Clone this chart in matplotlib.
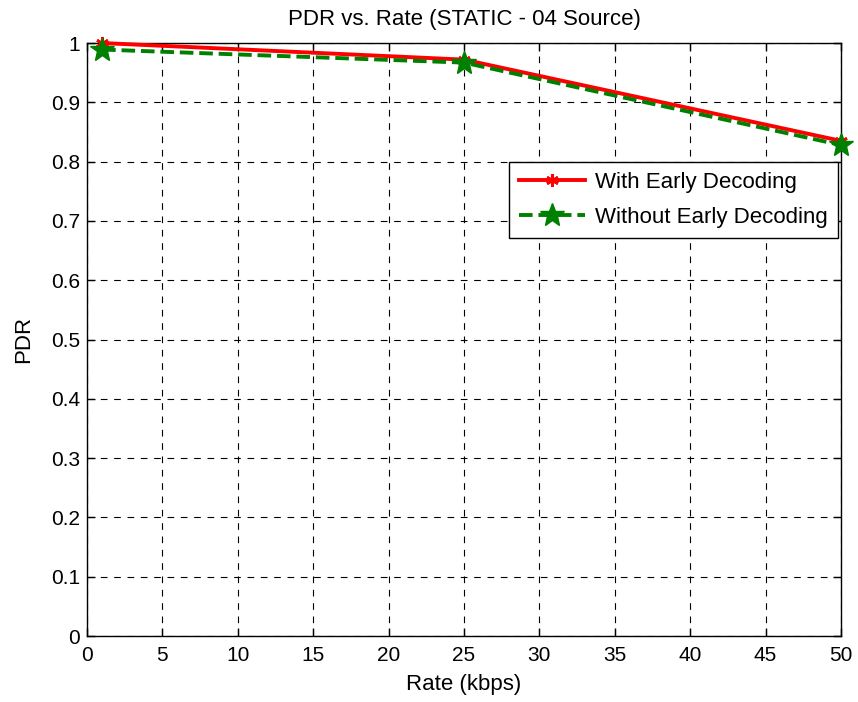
import matplotlib
matplotlib.use('Agg')
import matplotlib.pyplot as plt
import numpy as np

# PDR measured at each source rate
rates = [1, 25, 50]
pdr_early = [1.0, 0.972, 0.835]
pdr_no_early = [0.989, 0.967, 0.828]
labels = ['With Early Decoding', 'Without Early Decoding']

x_ticks = np.arange(0, 51, 5)
y_ticks = np.round(np.arange(0, 1.01, 0.1), 1)
y_ticklabels = ['0' if v == 0 else ('1' if v == 1 else '{:g}'.format(v)) for v in y_ticks]

plt.rcParams['font.family'] = ['Liberation Sans', 'DejaVu Sans']
plt.rcParams['font.size'] = 15

fig = plt.figure(figsize=(8.58, 7.02), dpi=100)
ax = fig.add_axes([0.1014, 0.094, 0.8788, 0.8447])

ax.plot(rates, pdr_early, color='red', lw=2.8, marker=(6, 2, 0), ms=9, mew=2,
        label=labels[0], clip_on=False, zorder=3)
ax.plot(rates, pdr_no_early, color='green', lw=2.8, ls=(0, (3.5, 1.5)), marker='*',
        ms=18, mfc='green', mec='green', label=labels[1], clip_on=False, zorder=4)

ax.set_xlim(0, 50)
ax.set_ylim(0, 1)
ax.set_xticks(x_ticks)
ax.set_yticks(y_ticks)
ax.set_yticklabels(y_ticklabels)
ax.tick_params(direction='in', length=6, width=1, top=True, right=True, labelsize=15)
ax.tick_params(axis='x', pad=7)
ax.tick_params(axis='y', pad=5)
ax.grid(True, color='black', ls=(0, (6, 6)), lw=0.8)
for s in ax.spines.values():
    s.set_linewidth(1)

ax.set_title('PDR vs. Rate (STATIC - 04 Source)', pad=13, fontsize=16)
ax.set_xlabel('Rate (kbps)', labelpad=7, fontsize=16)
ax.set_ylabel('PDR', labelpad=12, fontsize=16)

leg = ax.legend(loc='upper right', bbox_to_anchor=(0.996, 0.799), fancybox=False,
                framealpha=1, edgecolor='black', handlelength=3.0, borderpad=0.45,
                labelspacing=0.62, handletextpad=0.45, fontsize=16, borderaxespad=0)
leg.get_frame().set_linewidth(1)

plt.savefig('out.png', dpi=100)
